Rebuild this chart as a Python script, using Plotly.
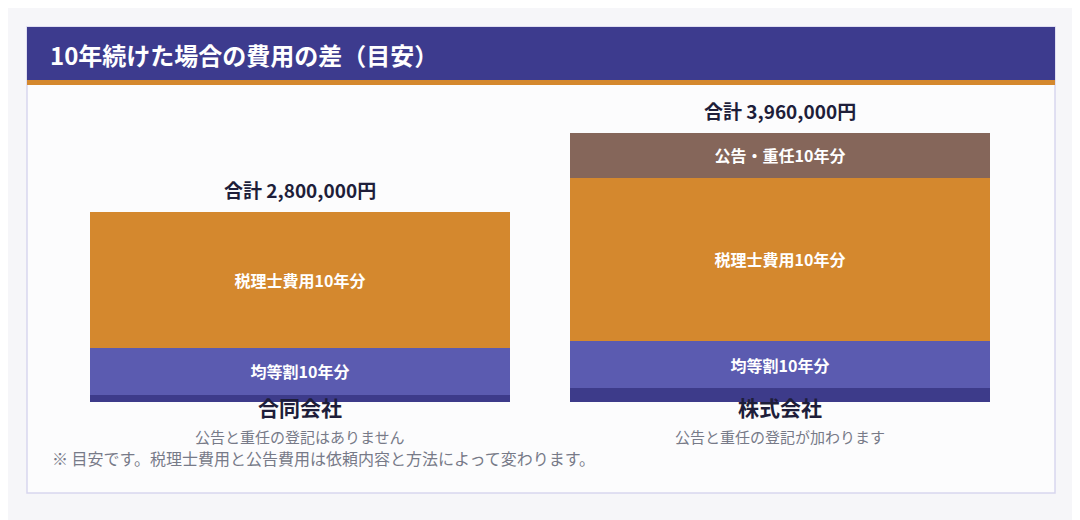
import plotly.graph_objects as go

# データ（単位: 百万円）
companies = ["合同会社", "株式会社"]
subtitles = ["公告と重任の登記はありません", "公告と重任の登記が加わります"]
setup = [0.10, 0.20]
kintouwari = [0.70, 0.70]
zeirishi = [2.00, 2.40]
koukoku = [0.0, 0.66]
totals = ["合計 2,800,000円", "合計 3,960,000円"]
total_vals = [2.80, 3.96]

FONT = "Noto Sans CJK JP"
W, H = 1080, 520
OFF = 8  # ページ余白のぶんずらす


def px(x):
    return (x - OFF) / W


def py(y):
    return 1 - (y - OFF) / H


fig = go.Figure()
fig.add_trace(go.Bar(x=companies, y=setup, marker_color="#3d3b8a", hoverinfo="skip"))
fig.add_trace(go.Bar(x=companies, y=kintouwari, marker_color="#5b5bb0",
                     text=["<b>均等割10年分</b>"] * 2))
fig.add_trace(go.Bar(x=companies, y=zeirishi, marker_color="#d4882e",
                     text=["<b>税理士費用10年分</b>"] * 2))
fig.add_trace(go.Bar(x=companies, y=koukoku, marker_color="#85665a",
                     text=["", "<b>公告・重任10年分</b>"]))
fig.update_traces(marker_line_width=0, textposition="inside", insidetextanchor="middle",
                  textfont=dict(family=FONT, size=16, color="white"), textangle=0)

# カード背景とヘッダー
fig.add_shape(type="rect", xref="paper", yref="paper", x0=px(27), x1=px(1055),
              y0=py(493), y1=py(27), fillcolor="#fcfcfd",
              line=dict(color="#d8d6ee", width=1.5), layer="below")
fig.add_shape(type="rect", xref="paper", yref="paper", x0=px(27), x1=px(1055),
              y0=py(80), y1=py(27), fillcolor="#3d3b8e", line_width=0, layer="below")
fig.add_shape(type="rect", xref="paper", yref="paper", x0=px(27), x1=px(1055),
              y0=py(85), y1=py(80), fillcolor="#d4882e", line_width=0, layer="below")

fig.add_annotation(text="<b>10年続けた場合の費用の差（目安）</b>", xref="paper", yref="paper",
                   x=px(48), y=py(54), xanchor="left", yanchor="middle", showarrow=False,
                   font=dict(family=FONT, size=24, color="white"))

for c, t, v in zip(companies, totals, total_vals):
    fig.add_annotation(x=c, y=v, text=f"<b>{t}</b>", yshift=22, showarrow=False,
                       font=dict(family=FONT, size=19, color="#1e1e3a"))
for c, s in zip(companies, subtitles):
    fig.add_annotation(x=c, y=py(424), yref="paper", text=f"<b>{c}</b>", showarrow=False,
                       font=dict(family=FONT, size=21, color="#1e1e3a"))
    fig.add_annotation(x=c, y=py(449), yref="paper", text=s, showarrow=False,
                       font=dict(family=FONT, size=15, color="#777a88"))
fig.add_annotation(text="※ 目安です。税理士費用と公告費用は依頼内容と方法によって変わります。",
                   xref="paper", yref="paper", x=px(50), y=py(472), xanchor="left",
                   showarrow=False, font=dict(family=FONT, size=16, color="#777a88"))

fig.update_layout(
    barmode="stack", bargap=0.125, showlegend=False,
    width=W, height=H, margin=dict(l=0, r=0, t=0, b=0),
    paper_bgcolor="#f6f6f9", plot_bgcolor="rgba(0,0,0,0)",
    uniformtext=dict(mode="show", minsize=10),
    xaxis=dict(domain=[px(60), px(1020)], showticklabels=False, showgrid=False, zeroline=False),
    yaxis=dict(domain=[py(402), py(100)], range=[0, 302/68], visible=False),
)
fig.write_html("out.html")
